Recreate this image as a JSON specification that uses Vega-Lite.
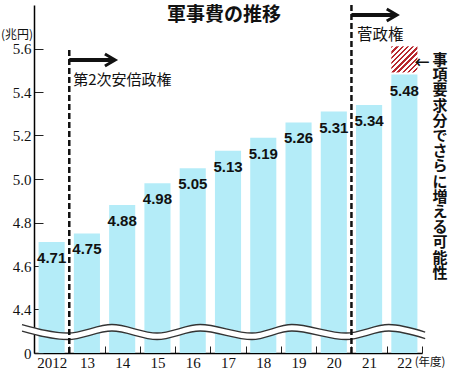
{
  "$schema": "https://vega.github.io/schema/vega-lite/v6.json",
  "width": 388,
  "height": 348,
  "autosize": {"type": "none"},
  "padding": {"left": 34, "top": 5, "right": 28, "bottom": 21},
  "config": {"view": {"stroke": null}, "font": "Noto Sans CJK JP"},
  "datasets": {
    "budget": [
      {"year": "2012", "value": 4.71},
      {"year": "13", "value": 4.75},
      {"year": "14", "value": 4.88},
      {"year": "15", "value": 4.98},
      {"year": "16", "value": 5.05},
      {"year": "17", "value": 5.13},
      {"year": "18", "value": 5.19},
      {"year": "19", "value": 5.26},
      {"year": "20", "value": 5.31},
      {"year": "21", "value": 5.34},
      {"year": "22", "value": 5.48}
    ],
    "extra": [{"year": "22", "low": 5.49, "high": 5.61}],
    "wave": [
      {"wx": 2011.16, "wy": 4.316},
      {"wx": 2012.46, "wy": 4.277},
      {"wx": 2013.71, "wy": 4.316},
      {"wx": 2014.99, "wy": 4.277},
      {"wx": 2016.21, "wy": 4.316},
      {"wx": 2017.68, "wy": 4.277},
      {"wx": 2018.81, "wy": 4.316},
      {"wx": 2020.35, "wy": 4.277},
      {"wx": 2021.56, "wy": 4.316},
      {"wx": 2022.59, "wy": 4.281}
    ],
    "one": [{}]
  },
  "layer": [
    {
      "data": {"name": "budget"},
      "layer": [
        {
          "mark": {"type": "bar", "color": "#b4ecf8"},
          "encoding": {
            "x": {
              "field": "year", "type": "nominal",
              "scale": {"domain": ["2012","13","14","15","16","17","18","19","20","21","22"], "paddingInner": 0.26, "paddingOuter": 0.13},
              "axis": {"title": null, "labelAngle": 0, "tickSize": -7, "tickOffset": 17.64, "labelOffset": -17.64, "labelPadding": 9, "labelFont": "Liberation Serif", "labelFontSize": 15, "labelColor": "#111", "domainColor": "#000", "domainWidth": 1.5, "tickColor": "#222", "tickWidth": 1}
            },
            "y": {
              "field": "value", "type": "quantitative",
              "scale": {"domain": [4.2, 5.8], "nice": false, "zero": false},
              "axis": {"title": null, "grid": false, "values": [4.2, 4.4, 4.6, 4.8, 5.0, 5.2, 5.4, 5.6], "labelExpr": "datum.value < 4.3 ? '0' : format(datum.value, '.1f')", "tickSize": -9, "tickColor": "#222", "tickWidth": 1, "domainColor": "#000", "domainWidth": 1.5, "labelFont": "Liberation Serif", "labelFontSize": 15, "labelColor": "#111", "labelPadding": 12}
            },
            "y2": {"datum": 4.2}
          }
        },
        {
          "mark": {"type": "text", "font": "Liberation Sans", "fontWeight": "bold", "fontSize": 15, "baseline": "middle", "dy": 16, "color": "#111"},
          "encoding": {
            "x": {"field": "year", "type": "nominal"},
            "y": {"field": "value", "type": "quantitative"},
            "text": {"field": "value", "type": "quantitative", "format": ".2f"}
          }
        },
        {
          "data": {"name": "extra"},
          "mark": {
            "type": "bar",
            "fill": {
              "gradient": "linear", "x1": 0, "y1": 0, "x2": 1, "y2": 1,
              "stops": [
                {"offset": 0, "color": "#b8282e"}, {"offset": 0.045, "color": "#b8282e"}, {"offset": 0.045, "color": "#ffffff"}, {"offset": 0.1, "color": "#ffffff"},
                {"offset": 0.1, "color": "#b8282e"}, {"offset": 0.145, "color": "#b8282e"}, {"offset": 0.145, "color": "#ffffff"}, {"offset": 0.2, "color": "#ffffff"},
                {"offset": 0.2, "color": "#b8282e"}, {"offset": 0.245, "color": "#b8282e"}, {"offset": 0.245, "color": "#ffffff"}, {"offset": 0.3, "color": "#ffffff"},
                {"offset": 0.3, "color": "#b8282e"}, {"offset": 0.345, "color": "#b8282e"}, {"offset": 0.345, "color": "#ffffff"}, {"offset": 0.4, "color": "#ffffff"},
                {"offset": 0.4, "color": "#b8282e"}, {"offset": 0.445, "color": "#b8282e"}, {"offset": 0.445, "color": "#ffffff"}, {"offset": 0.5, "color": "#ffffff"},
                {"offset": 0.5, "color": "#b8282e"}, {"offset": 0.545, "color": "#b8282e"}, {"offset": 0.545, "color": "#ffffff"}, {"offset": 0.6, "color": "#ffffff"},
                {"offset": 0.6, "color": "#b8282e"}, {"offset": 0.645, "color": "#b8282e"}, {"offset": 0.645, "color": "#ffffff"}, {"offset": 0.7, "color": "#ffffff"},
                {"offset": 0.7, "color": "#b8282e"}, {"offset": 0.745, "color": "#b8282e"}, {"offset": 0.745, "color": "#ffffff"}, {"offset": 0.8, "color": "#ffffff"},
                {"offset": 0.8, "color": "#b8282e"}, {"offset": 0.845, "color": "#b8282e"}, {"offset": 0.845, "color": "#ffffff"}, {"offset": 0.9, "color": "#ffffff"},
                {"offset": 0.9, "color": "#b8282e"}, {"offset": 0.945, "color": "#b8282e"}, {"offset": 0.945, "color": "#ffffff"}, {"offset": 1, "color": "#ffffff"}
              ]
            }
          },
          "encoding": {
            "x": {"field": "year", "type": "nominal"},
            "y": {"field": "low", "type": "quantitative"},
            "y2": {"field": "high"}
          }
        }
      ]
    },
    {
      "layer": [
        {
          "data": {"name": "wave"},
          "mark": {"type": "line", "color": "#ffffff", "strokeWidth": 6.5, "interpolate": "monotone"},
          "encoding": {
            "x": {"field": "wx", "type": "quantitative", "scale": {"domain": [2011.5, 2022.5], "nice": false, "zero": false}, "axis": null},
            "y": {"field": "wy", "type": "quantitative"}
          }
        },
        {
          "data": {"name": "wave"},
          "mark": {"type": "line", "color": "#333333", "strokeWidth": 1.3, "interpolate": "monotone", "yOffset": -3.25},
          "encoding": {
            "x": {"field": "wx", "type": "quantitative", "axis": null},
            "y": {"field": "wy", "type": "quantitative"}
          }
        },
        {
          "data": {"name": "wave"},
          "mark": {"type": "line", "color": "#333333", "strokeWidth": 1.3, "interpolate": "monotone", "yOffset": 3.25},
          "encoding": {
            "x": {"field": "wx", "type": "quantitative", "axis": null},
            "y": {"field": "wy", "type": "quantitative"}
          }
        },
        {
          "data": {"name": "one"},
          "mark": {"type": "rule", "strokeDash": [6, 3], "strokeWidth": 2.5, "color": "#111"},
          "encoding": {"x": {"datum": 2012.5, "type": "quantitative", "axis": null}, "y": {"datum": 5.593, "type": "quantitative"}, "y2": {"datum": 4.2}}
        },
        {
          "data": {"name": "one"},
          "mark": {"type": "rule", "strokeDash": [6, 3], "strokeWidth": 2.5, "color": "#111"},
          "encoding": {"x": {"datum": 2020.5, "type": "quantitative", "axis": null}, "y": {"datum": 5.8, "type": "quantitative"}, "y2": {"datum": 4.2}}
        },
        {
          "data": {"name": "one"},
          "mark": {"type": "rule", "strokeWidth": 4, "color": "#111"},
          "encoding": {"x": {"datum": 2012.5, "type": "quantitative", "axis": null}, "x2": {"datum": 2013.75}, "y": {"datum": 5.547, "type": "quantitative"}}
        },
        {
          "data": {"name": "one"},
          "mark": {"type": "point", "shape": "M-1.7,-1L0,0L-1.7,1", "size": 144, "filled": false, "stroke": "#111", "strokeWidth": 3, "opacity": 1},
          "encoding": {"x": {"datum": 2013.8, "type": "quantitative", "axis": null}, "y": {"datum": 5.547, "type": "quantitative"}}
        },
        {
          "data": {"name": "one"},
          "mark": {"type": "rule", "strokeWidth": 4, "color": "#111"},
          "encoding": {"x": {"datum": 2020.5, "type": "quantitative", "axis": null}, "x2": {"datum": 2021.74}, "y": {"datum": 5.754, "type": "quantitative"}}
        },
        {
          "data": {"name": "one"},
          "mark": {"type": "point", "shape": "M-1.7,-1L0,0L-1.7,1", "size": 144, "filled": false, "stroke": "#111", "strokeWidth": 3, "opacity": 1},
          "encoding": {"x": {"datum": 2021.79, "type": "quantitative", "axis": null}, "y": {"datum": 5.754, "type": "quantitative"}}
        },
        {
          "data": {"name": "one"},
          "mark": {"type": "text", "text": "軍事費の推移", "fontSize": 19, "fontWeight": "bold", "align": "center", "baseline": "middle", "color": "#111"},
          "encoding": {"x": {"datum": 2016.89, "type": "quantitative", "axis": null}, "y": {"datum": 5.754, "type": "quantitative"}}
        },
        {
          "data": {"name": "one"},
          "mark": {"type": "text", "text": "第2次安倍政権", "fontSize": 15, "align": "left", "baseline": "middle", "color": "#111"},
          "encoding": {"x": {"datum": 2012.61, "type": "quantitative", "axis": null}, "y": {"datum": 5.455, "type": "quantitative"}}
        },
        {
          "data": {"name": "one"},
          "mark": {"type": "text", "text": "菅政権", "fontSize": 15.5, "align": "left", "baseline": "middle", "color": "#111"},
          "encoding": {"x": {"datum": 2020.66, "type": "quantitative", "axis": null}, "y": {"datum": 5.662, "type": "quantitative"}}
        },
        {
          "data": {"name": "one"},
          "mark": {"type": "text", "text": "(兆円)", "fontSize": 12, "align": "center", "baseline": "middle", "color": "#111"},
          "encoding": {"x": {"datum": 2011.02, "type": "quantitative", "axis": null}, "y": {"datum": 5.662, "type": "quantitative"}}
        },
        {
          "data": {"name": "one"},
          "mark": {"type": "text", "text": "(年度)", "fontSize": 11.5, "align": "center", "baseline": "middle", "color": "#111"},
          "encoding": {"x": {"datum": 2022.73, "type": "quantitative", "axis": null}, "y": {"datum": 4.154, "type": "quantitative"}}
        },
        {
          "data": {"name": "one"},
          "mark": {"type": "text", "text": "←", "fontSize": 15, "fontWeight": "bold", "align": "center", "baseline": "middle", "color": "#111"},
          "encoding": {"x": {"datum": 2022.5, "type": "quantitative", "axis": null}, "y": {"datum": 5.533, "type": "quantitative"}}
        },
        {
          "data": {"name": "one"},
          "mark": {"type": "text", "text": ["事","項","要","求","分","で","さ","ら","に","増","え","る","可","能","性"], "fontSize": 15, "fontWeight": "bold", "lineHeight": 15.2, "align": "center", "baseline": "top", "color": "#111"},
          "encoding": {"x": {"datum": 2023.01, "type": "quantitative", "axis": null}, "y": {"datum": 5.579, "type": "quantitative"}}
        }
      ]
    }
  ],
  "resolve": {"scale": {"x": "independent"}}
}
